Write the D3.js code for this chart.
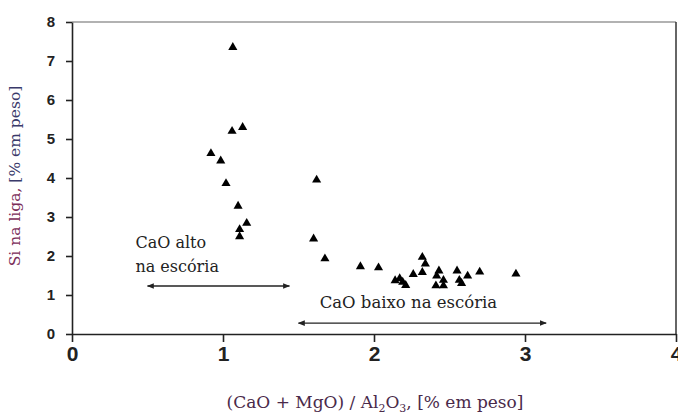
<!DOCTYPE html>
<html><head><meta charset="utf-8">
<script src="https://cdn.jsdelivr.net/npm/d3@7"></script>
<style>body{margin:0;background:#fff}svg{display:block}</style>
</head><body>
<svg id="c" width="678" height="414"></svg>
<script>
// Data: (CaO+MgO)/Al2O3 ratio vs Si in alloy
const ratioHigh = [0.92, 0.985, 1.02, 1.06, 1.065, 1.13, 1.10, 1.157, 1.11, 1.11];
const siHigh    = [4.63, 4.44, 3.86, 5.20, 7.35, 5.30, 3.28, 2.84, 2.68, 2.50];
const ratioLow  = [1.60, 1.62, 1.675, 1.91, 2.03, 2.14, 2.17, 2.19, 2.21, 2.26, 2.32, 2.34, 2.32, 2.43, 2.415, 2.46, 2.41, 2.46, 2.55, 2.565, 2.58, 2.62, 2.70, 2.94];
const siLow     = [2.44, 3.95, 1.93, 1.73, 1.70, 1.37, 1.42, 1.33, 1.25, 1.53, 1.97, 1.80, 1.58, 1.62, 1.49, 1.38, 1.24, 1.24, 1.62, 1.38, 1.30, 1.49, 1.59, 1.54];
const xTicks = [0, 1, 2, 3, 4];
const yTicks = [0, 1, 2, 3, 4, 5, 6, 7, 8];
const arrowHigh = [0.5, 1.44, 1.23];   // x1, x2, y
const arrowLow  = [1.5, 3.14, 0.28];
const labelHigh = ["CaO alto", "na escória"];
const labelLow  = "CaO baixo na escória";

const svg = d3.select("#c");
const x = d3.scaleLinear().domain([0, 4]).range([72, 676]);
const y = d3.scaleLinear().domain([0, 8]).range([334, 22]);

// frame (top & right)
svg.append("line").attr("x1", x(0)).attr("x2", x(4)).attr("y1", y(8)).attr("y2", y(8))
  .attr("stroke", "#999").attr("stroke-width", 1.5);
svg.append("line").attr("x1", x(4)).attr("x2", x(4)).attr("y1", y(8)).attr("y2", y(0))
  .attr("stroke", "#333").attr("stroke-width", 1.5);

const xa = svg.append("g").attr("transform", `translate(0,${y(0)})`)
  .call(d3.axisBottom(x).tickValues(xTicks).tickFormat(d3.format("d")).tickSizeInner(8).tickSizeOuter(0).tickPadding(4));
xa.selectAll("text").attr("font-family", "Liberation Sans, Arial, sans-serif").attr("font-size", 21).attr("font-weight", "bold").attr("fill", "#222");
const ya = svg.append("g").attr("transform", `translate(${x(0)},0)`)
  .call(d3.axisLeft(y).tickValues(yTicks).tickFormat(d3.format("d")).tickSizeInner(6).tickSizeOuter(0).tickPadding(11));
ya.selectAll("text").attr("font-family", "Liberation Sans, Arial, sans-serif").attr("font-size", 15).attr("font-weight", "bold").attr("fill", "#222");
svg.selectAll(".domain, .tick line").attr("stroke", "#222").attr("stroke-width", 1.6);

// points
const tri = d3.symbol().type(d3.symbolTriangle).size(36);
const pts = ratioHigh.map((r, i) => [r, siHigh[i]]).concat(ratioLow.map((r, i) => [r, siLow[i]]));
svg.append("g").selectAll("path").data(pts).join("path")
  .attr("d", tri).attr("transform", d => `translate(${x(d[0])},${y(d[1])})`).attr("fill", "#000");

// arrows
const defs = svg.append("defs");
defs.append("marker").attr("id", "ah").attr("viewBox", "0 0 10 10").attr("refX", 9).attr("refY", 5)
  .attr("markerWidth", 5).attr("markerHeight", 5).attr("orient", "auto-start-reverse")
  .append("path").attr("d", "M0,1L10,5L0,9Z").attr("fill", "#222");
[arrowHigh, arrowLow].forEach(a => {
  svg.append("line").attr("x1", x(a[0])).attr("x2", x(a[1])).attr("y1", y(a[2])).attr("y2", y(a[2]))
    .attr("stroke", "#222").attr("stroke-width", 1.4)
    .attr("marker-start", "url(#ah)").attr("marker-end", "url(#ah)");
});

const serif = "DejaVu Serif, serif";
svg.append("text").attr("x", x(0.42)).attr("y", y(2.2)).text(labelHigh[0])
  .attr("font-family", serif).attr("font-size", 16).attr("fill", "#222");
svg.append("text").attr("x", x(0.42)).attr("y", y(1.6)).text(labelHigh[1])
  .attr("font-family", serif).attr("font-size", 16).attr("fill", "#222");
svg.append("text").attr("x", x(1.64)).attr("y", y(0.66)).text(labelLow)
  .attr("font-family", serif).attr("font-size", 16.5).attr("fill", "#222");

// axis titles
const xt = svg.append("text").attr("x", 375).attr("y", 408).attr("text-anchor", "middle")
  .attr("font-family", serif).attr("font-size", 17).attr("fill", "#4a2a4a");
xt.append("tspan").text("(CaO + MgO) / Al");
xt.append("tspan").text("2").attr("font-size", 11).attr("dy", 4);
xt.append("tspan").text("O").attr("dy", -4);
xt.append("tspan").text("3").attr("font-size", 11).attr("dy", 4);
xt.append("tspan").text(", [% em peso]").attr("dy", -4);

const yt = svg.append("text").attr("transform", "translate(20,176) rotate(-90)").attr("text-anchor", "middle")
  .attr("font-family", serif).attr("font-size", 15.5);
yt.append("tspan").text("Si na liga, ").attr("fill", "#7a2c58");
yt.append("tspan").text("[% em peso]").attr("fill", "#3a3a6a");
</script>
</body></html>
